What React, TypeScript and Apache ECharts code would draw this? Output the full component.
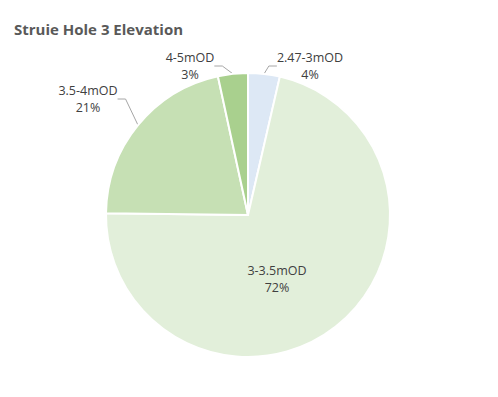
import React, { useEffect, useRef } from "react";
import * as echarts from "echarts";

const categories = ["2.47-3mOD", "3-3.5mOD", "3.5-4mOD", "4-5mOD"];
const values = [3.6, 71.6, 21.4, 3.4];
const colors = ["#dde8f5", "#e2efda", "#c6e0b4", "#a9d08e"];
const labelPos: Record<number, [number, number]> = {
  0: [310, 66],
  1: [277, 279],
  2: [88, 99],
  3: [190, 66],
};

export default function App() {
  const ref = useRef<HTMLDivElement>(null);
  useEffect(() => {
    document.body.style.margin = "0";
    const chart = echarts.init(ref.current!, undefined, { renderer: "svg" });
    chart.setOption({
      animation: false,
      backgroundColor: "#ffffff",
      title: {
        text: "Struie Hole 3 Elevation",
        left: 9,
        top: 16,
        textStyle: {
          fontFamily: "Open Sans",
          fontSize: 15,
          fontWeight: "bold",
          color: "#595959",
        },
      },
      series: [
        {
          type: "pie",
          center: [248, 215],
          radius: 142,
          startAngle: 90,
          clockwise: true,
          percentPrecision: 0,
          data: categories.map((c, i) => ({
            name: c,
            value: values[i],
            itemStyle: { color: colors[i] },
            label: i === 1 ? { position: "inside" } : undefined,
            labelLine: i === 1 ? { show: false } : undefined,
          })),
          itemStyle: { borderColor: "#ffffff", borderWidth: 2 },
          label: {
            show: true,
            position: "outside",
            formatter: "{b}\n{d}%",
            fontFamily: "Open Sans",
            fontSize: 12.5,
            lineHeight: 17,
            color: "#404040",
            align: "center",
          },
          labelLine: {
            show: true,
            length: 8,
            length2: 8,
            lineStyle: { color: "#a6a6a6", width: 1 },
          },
          labelLayout: (p: any) => {
            const pos = labelPos[p.dataIndex];
            return {
              x: pos[0],
              y: pos[1],
              align: "center",
              verticalAlign: "middle",
            };
          },
          emphasis: { disabled: true },
        },
      ],
    });
    return () => chart.dispose();
  }, []);
  return <div ref={ref} style={{ width: 498, height: 397 }} />;
}
